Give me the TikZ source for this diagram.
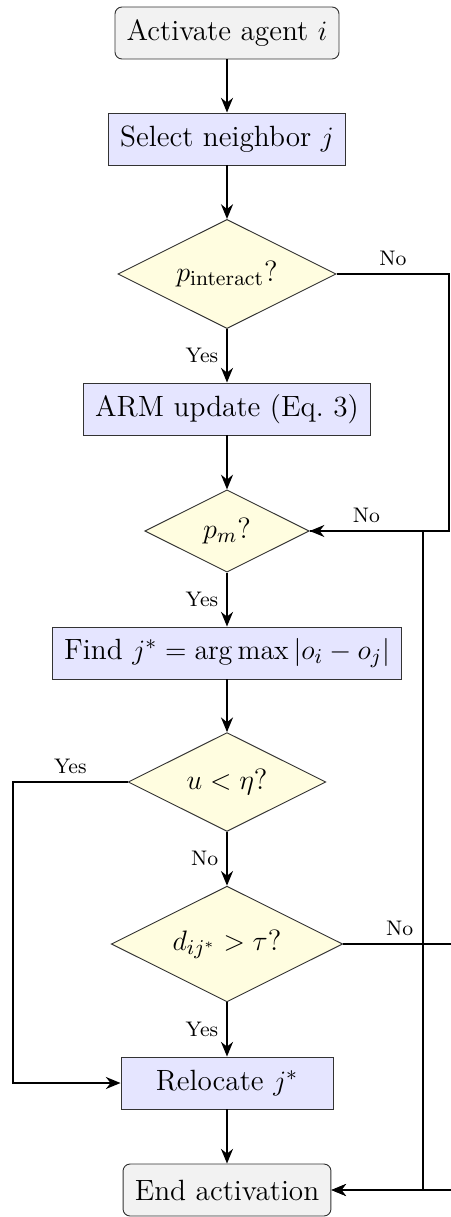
\documentclass[tikz,border=0pt]{standalone}
\usepackage{amsmath}
\usepackage{tikz}
\usetikzlibrary{arrows.meta, shapes.geometric}

\begin{document}
\begin{tikzpicture}[
    font=\fontsize{12.5}{15}\selectfont,
    terminal/.style={draw=black!80, fill=black!5, rounded corners=3pt, inner xsep=5pt, minimum height=0.78cm},
    process/.style={draw=black!80, fill=blue!10, inner xsep=5pt, minimum height=0.78cm, minimum width=3.18cm},
    decision/.style={draw=black!80, fill=yellow!12, diamond, aspect=2, inner sep=4.6pt},
    flow/.style={thick, -{Stealth[length=2.2mm, width=1.8mm]}},
    lbl/.style={font=\small}
  ]
            \useasboundingbox (0,0) rectangle (6.75,-18.255);

            % Main column
            \node[terminal] (start) at (3.405,-0.495) {Activate agent $i$};
            \node[process] (select) at (3.405,-2.085) {Select neighbor $j$};
            \node[decision] (pint) at (3.405,-4.11) {$p_{\mathrm{interact}}$?};
            \node[process] (arm) at (3.405,-6.135) {ARM update (Eq.~3)};
            \node[decision] (pm) at (3.405,-7.965) {$p_m$?};
            \node[process] (find) at (3.405,-9.795) {Find $j^* = \arg\max |o_i - o_j|$};
            \node[decision] (ueta) at (3.405,-11.73) {$u < \eta$?};
            \node[decision] (dtau) at (3.405,-14.16) {$d_{ij^*} > \tau$?};
            \node[process] (reloc) at (3.405,-16.245) {Relocate $j^*$};
            \node[terminal] (endact) at (3.405,-17.85) {End activation};

            % Rails for the side branches
            \coordinate (railA) at (6.735,0);
            \coordinate (railB) at (6.345,0);
            \coordinate (railC) at (6.84,0);
            \coordinate (railL) at (0.195,0);

            % Straight arrows
            \draw[flow] (start) -- (select);
            \draw[flow] (select) -- (pint);
            \draw[flow] (pint) -- node[lbl, left] {Yes} (arm);
            \draw[flow] (arm) -- (pm);
            \draw[flow] (pm) -- node[lbl, left] {Yes} (find);
            \draw[flow] (find) -- (ueta);
            \draw[flow] (ueta) -- node[lbl, left] {No} (dtau);
            \draw[flow] (dtau) -- node[lbl, left] {Yes} (reloc);
            \draw[flow] (reloc) -- (endact);

            % Side branches
            \draw[flow] (pint.east) -- node[lbl, above] {No} (pint.east -| railA) |- (pm.east);
            \draw[flow] (pm.east) -- node[lbl, above] {No} (pm.east -| railB) |- (endact.east);
            \draw[flow] (dtau.east) -- node[lbl, above] {No} (dtau.east -| railC) |- (endact.east);
            \draw[flow] (ueta.west) -- node[lbl, above] {Yes} (ueta.west -| railL) |- (reloc.west);
        \end{tikzpicture}
\end{document}
